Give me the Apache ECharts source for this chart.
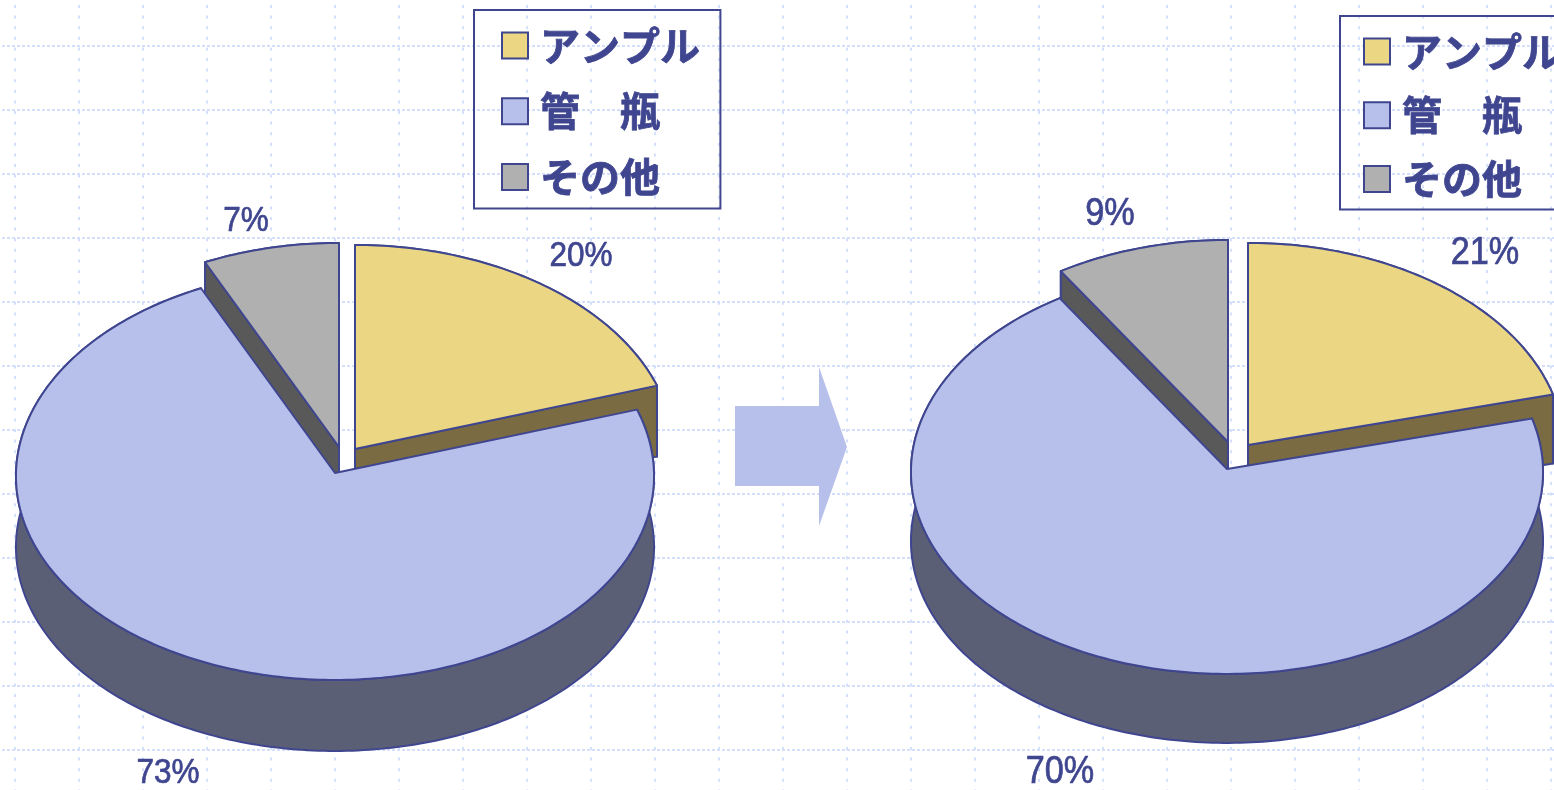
<!DOCTYPE html>
<html>
<head>
<meta charset="utf-8">
<title>容器別構成比</title>
<style>html,body{margin:0;padding:0;background:#fff;overflow:hidden}#chart{width:1554px;height:790px}</style>
<script src="https://cdn.jsdelivr.net/npm/echarts@6/dist/echarts.min.js"></script>
</head>
<body>
<div id="chart"></div>
<script>
// Slice names and percentage shares for the two periods
const categories = ['アンプル', '管　瓶', 'その他'];
const sharesBefore = [20, 73, 7];
const sharesAfter = [21, 70, 9];

const INK = '#3f468f';
const topColors = ['#ebd783', '#b7c0eb', '#b0b0b0'];
const wallColors = ['#7a6b42', '#5b5f75', '#595959'];
const GRID_COLOR = '#d3dffb';
const LABEL_FONT = '"Liberation Sans", Arial, sans-serif';
const LEGEND_FONT = '"Noto Sans CJK JP", sans-serif';

// Tilted pie geometry; `shift` pulls a slice out of the main body, `labels` places each percentage
const pies = [
  { shares: sharesBefore, cx: 335, cy: 473, rx: 319, ry: 205.5, depth: 71,
    shift: [[20, -24], [0, 0], [4, -26]],
    labels: [[581, 256], [168, 773], [246, 221]], fontSize: 35, squeeze: 0.9 },
  { shares: sharesAfter, cx: 1227, cy: 469, rx: 316, ry: 203.5, depth: 69,
    shift: [[21, -24], [0, 0], [1, -27]],
    labels: [[1485, 254], [1060, 773], [1110, 215]], fontSize: 38, squeeze: 0.9 }
];

// Far side of the disc is foreshortened slightly by the viewing perspective
const NARROW_X = 0.015;
const NARROW_Y = 0.007;

function rimPoint(pie, off, deg, drop) {
  const t = deg * Math.PI / 180;
  const c = Math.cos(t);
  return [pie.cx + off[0] + pie.rx * Math.sin(t) * (1 - NARROW_X * c),
          pie.cy + off[1] - pie.ry * c * (1 - NARROW_Y * c) + drop];
}

function arc(pie, off, from, to, drop) {
  const pts = [];
  const n = Math.max(2, Math.ceil(Math.abs(to - from)));
  for (let i = 0; i <= n; i++) pts.push(rimPoint(pie, off, from + (to - from) * i / n, drop));
  return pts;
}

function face(points, fill) {
  return { type: 'polygon', shape: { points },
    style: { fill, stroke: INK, lineWidth: 2, lineJoin: 'round' } };
}

// One series per slice: walls, cut faces, top face and the percentage text
function sliceSeries(pie, index) {
  const before = pie.shares.slice(0, index).reduce((a, b) => a + b, 0);
  return {
    type: 'custom',
    name: categories[index],
    coordinateSystem: 'none',
    silent: true,
    animation: false,
    itemStyle: { color: topColors[index] },
    data: [[pie.shares[index], before]],
    renderItem(params, api) {
      const value = api.value(0);
      const s = api.value(1) * 3.6;
      const e = s + value * 3.6;
      const off = pie.shift[index];
      const hub = [pie.cx + off[0], pie.cy + off[1]];
      const hubLow = [hub[0], hub[1] + pie.depth];
      const children = [];
      // outer wall
      children.push(face(arc(pie, off, s, e, 0).concat(arc(pie, off, e, s, pie.depth)), wallColors[index]));
      // cut faces that turn toward the viewer
      if (Math.sin(s * Math.PI / 180) < -1e-6) {
        children.push(face([hub, rimPoint(pie, off, s, 0), rimPoint(pie, off, s, pie.depth), hubLow], wallColors[index]));
      }
      if (Math.sin(e * Math.PI / 180) > 1e-6) {
        children.push(face([hub, rimPoint(pie, off, e, 0), rimPoint(pie, off, e, pie.depth), hubLow], wallColors[index]));
      }
      // top face
      children.push(face([hub].concat(arc(pie, off, s, e, 0)), topColors[index]));
      // percentage
      children.push({
        type: 'text',
        x: pie.labels[index][0],
        y: pie.labels[index][1],
        scaleX: pie.squeeze,
        style: {
          text: value + '%',
          fill: INK,
          stroke: INK,
          lineWidth: 0.7,
          font: pie.fontSize + 'px ' + LABEL_FONT,
          align: 'center',
          verticalAlign: 'middle'
        }
      });
      return { type: 'group', children };
    }
  };
}

// Back slices are painted first so the large slice overlaps their walls
const paintOrder = [0, 2, 1];
const series = [];
pies.forEach(p => paintOrder.forEach(i => series.push(sliceSeries(p, i))));

function legendFor(left, top, padding, gap) {
  return {
    orient: 'vertical',
    left, top, padding,
    itemGap: gap,
    itemWidth: 26,
    itemHeight: 26,
    align: 'left',
    borderColor: INK,
    borderWidth: 2,
    backgroundColor: 'transparent',
    selectedMode: false,
    data: categories.map((name, i) => ({
      name,
      icon: 'rect',
      itemStyle: { color: topColors[i], borderColor: INK, borderWidth: 2 }
    })),
    textStyle: {
      color: INK,
      fontFamily: LEGEND_FONT,
      fontWeight: 'bold',
      fontSize: 40,
      lineHeight: 40,
      textBorderColor: INK,
      textBorderWidth: 0.8,
      padding: [0, 0, 0, 7]
    }
  };
}

// Dotted background grid on a fixed 64px pitch
const W = 1554, H = 790, PITCH = 64;
const graphics = [];
for (let y = 46; y < H; y += PITCH) {
  graphics.push({ type: 'line', z: -1, silent: true, shape: { x1: 2, y1: y, x2: W, y2: y },
    style: { stroke: GRID_COLOR, lineWidth: 2, lineDash: [3, 2] } });
}
for (let x = 15; x < W; x += PITCH) {
  graphics.push({ type: 'line', z: -1, silent: true, shape: { x1: x, y1: 5, x2: x, y2: H },
    style: { stroke: GRID_COLOR, lineWidth: 2, lineDash: [3, 7.6] } });
}
// Arrow between the two pies
graphics.push({ type: 'polygon', z: 1, silent: true,
  shape: { points: [[735, 406], [819, 406], [819, 367], [847, 447], [819, 526], [819, 486], [735, 486]] },
  style: { fill: '#b7c0eb' } });

const chart = echarts.init(document.getElementById('chart'), null, { renderer: 'canvas' });
chart.setOption({
  animation: false,
  backgroundColor: '#fff',
  graphic: graphics,
  legend: [
    legendFor(474, 10, [15, 20, 11, 27], 25),
    legendFor(1340, 16, [15, 18, 10, 23], 23)
  ],
  series
});
</script>
</body>
</html>
